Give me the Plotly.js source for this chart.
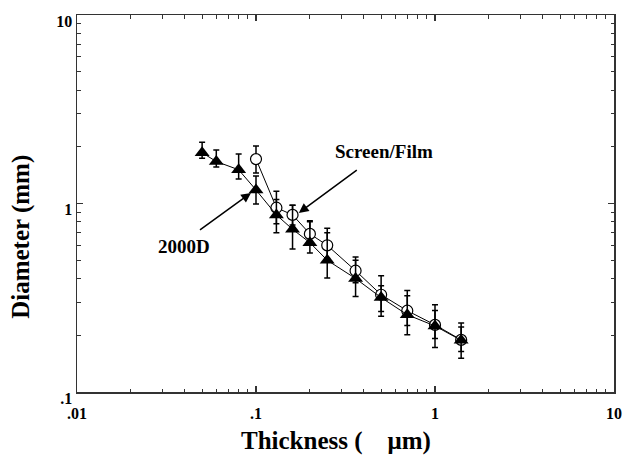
<!DOCTYPE html>
<html>
<head>
<meta charset="utf-8">
<script src="https://cdn.plot.ly/plotly-3.0.1.min.js"></script>
<style>html,body{margin:0;padding:0;background:#fff;}#chart{width:623px;height:465px;}</style>
</head>
<body>
<div id="chart"></div>
<script>
// 2000D (filled triangles)
const thickD = [0.05, 0.06, 0.08, 0.1, 0.13, 0.16, 0.2, 0.25, 0.36, 0.5, 0.7, 1.0, 1.4];
const diamD  = [1.86, 1.67, 1.51, 1.18, 0.87, 0.73, 0.62, 0.50, 0.40, 0.317, 0.257, 0.224, 0.188];
const hiD    = [2.11, 1.92, 1.83, 1.40, 1.05, 0.98, 0.81, 0.74, 0.52, 0.414, 0.346, 0.290, 0.232];
const loD    = [1.74, 1.56, 1.35, 0.995, 0.70, 0.573, 0.546, 0.402, 0.321, 0.252, 0.201, 0.172, 0.151];

// Screen/Film (open circles)
const thickS = [0.1, 0.13, 0.16, 0.2, 0.25, 0.36, 0.5, 0.7, 1.0, 1.4];
const diamS  = [1.72, 0.95, 0.87, 0.69, 0.60, 0.44, 0.328, 0.27, 0.227, 0.189];
const hiS    = [2.02, 1.16, 0.98, 0.80, 0.70, 0.50, 0.366, 0.324, 0.271, 0.221];
const loS    = [1.45, 0.78, 0.77, 0.60, 0.51, 0.38, 0.267, 0.225, 0.192, 0.164];

const xTickVals = [0.01, 0.1, 1, 10];
const xTickText = ['<b>.01</b>', '<b>.1</b>', '<b>1</b>', '<b>10</b>'];
const yTickVals = [0.1, 1, 10];
const yTickText = ['<b>.1</b>', '<b>1</b>', '<b>10</b>'];

const seriesNames = ['Screen/Film', '2000D'];
const xTitle = 'Thickness (\u00a0\u00a0\u00a0\u00a0\u03bcm)';
const yTitle = 'Diameter (mm)';

function minorVals(lo, hi) {
  const v = [];
  for (let d = lo; d < hi; d *= 10) for (let k = 2; k <= 9; k++) v.push(+(d * k).toPrecision(3));
  return v;
}

const FONT = 'Liberation Serif, Times New Roman, Times, serif';

const traceS = {
  x: thickS, y: diamS, name: seriesNames[0], type: 'scatter', mode: 'lines+markers',
  line: {color: '#000', width: 1},
  marker: {symbol: 'circle', size: 11, color: '#fff', line: {color: '#000', width: 1.2}},
  error_y: {type: 'data', symmetric: false,
    array: hiS.map((h, i) => h - diamS[i]), arrayminus: loS.map((l, i) => diamS[i] - l),
    color: '#000', thickness: 1.5, width: 3},
  showlegend: false
};
const traceD = {
  x: thickD, y: diamD, name: seriesNames[1], type: 'scatter', mode: 'lines+markers',
  line: {color: '#000', width: 1},
  marker: {symbol: 'triangle-up', size: 13, color: '#000'},
  error_y: {type: 'data', symmetric: false,
    array: hiD.map((h, i) => h - diamD[i]), arrayminus: loD.map((l, i) => diamD[i] - l),
    color: '#000', thickness: 1.5, width: 3},
  showlegend: false
};

const axisCommon = {
  type: 'log', showgrid: false, zeroline: false,
  showline: true, linecolor: '#333', linewidth: 1.5, mirror: 'allticks',
  ticks: 'inside', ticklen: 6, tickwidth: 1.2, tickcolor: '#333',
  tickmode: 'array',
  tickfont: {family: FONT, size: 16, color: '#000'}
};

const layout = {
  width: 623, height: 465,
  margin: {l: 77, r: 9, t: 15, b: 73},
  paper_bgcolor: '#fff', plot_bgcolor: '#fff',
  font: {family: FONT, color: '#000'},
  xaxis: Object.assign({}, axisCommon, {
    range: [-2, 1], tickvals: xTickVals, ticktext: xTickText, ticklabelstandoff: 6,
    minor: {tickmode: 'array', tickvals: minorVals(0.01, 10), ticks: 'inside', ticklen: 3.5, tickwidth: 1, tickcolor: '#333', showgrid: false}
  }),
  yaxis: Object.assign({}, axisCommon, {
    range: [-1, 1], tickvals: yTickVals, ticktext: yTickText, ticklabelshift: 6,
    minor: {tickmode: 'array', tickvals: minorVals(0.1, 10), ticks: 'inside', ticklen: 3.5, tickwidth: 1, tickcolor: '#333', showgrid: false}
  }),
  annotations: [
    {xref: 'paper', yref: 'paper', x: 0.483, y: -0.130, text: '<b>' + xTitle + '</b>', showarrow: false,
     font: {family: FONT, size: 25, color: '#000'}, xanchor: 'center', yanchor: 'middle'},
    {xref: 'paper', yref: 'paper', x: -0.104, y: 0.412, text: '<b>' + yTitle + '</b>', showarrow: false, textangle: -90,
     font: {family: FONT, size: 25, color: '#000'}, xanchor: 'center', yanchor: 'middle'},
    {xref: 'paper', yref: 'paper', x: 0.572, y: 0.637, text: '<b>' + seriesNames[0] + '</b>', showarrow: false,
     font: {family: FONT, size: 19, color: '#000'}, xanchor: 'center', yanchor: 'middle'},
    {xref: 'paper', yref: 'paper', x: 0.199, y: 0.385, text: '<b>' + seriesNames[1] + '</b>', showarrow: false,
     font: {family: FONT, size: 19, color: '#000'}, xanchor: 'center', yanchor: 'middle'},
    {xref: 'paper', yref: 'paper', x: 0.413, y: 0.475, text: ' ', showarrow: true,
     ax: 61, ay: -45, arrowhead: 2, arrowsize: 1.3, arrowwidth: 1.5, arrowcolor: '#000', standoff: 0},
    {xref: 'paper', yref: 'paper', x: 0.324, y: 0.528, text: ' ', showarrow: true,
     ax: -54, ay: 39, arrowhead: 2, arrowsize: 1.3, arrowwidth: 1.5, arrowcolor: '#000', standoff: 0}
  ]
};

Plotly.newPlot('chart', [traceS, traceD], layout, {staticPlot: true, displayModeBar: false});
</script>
</body>
</html>
